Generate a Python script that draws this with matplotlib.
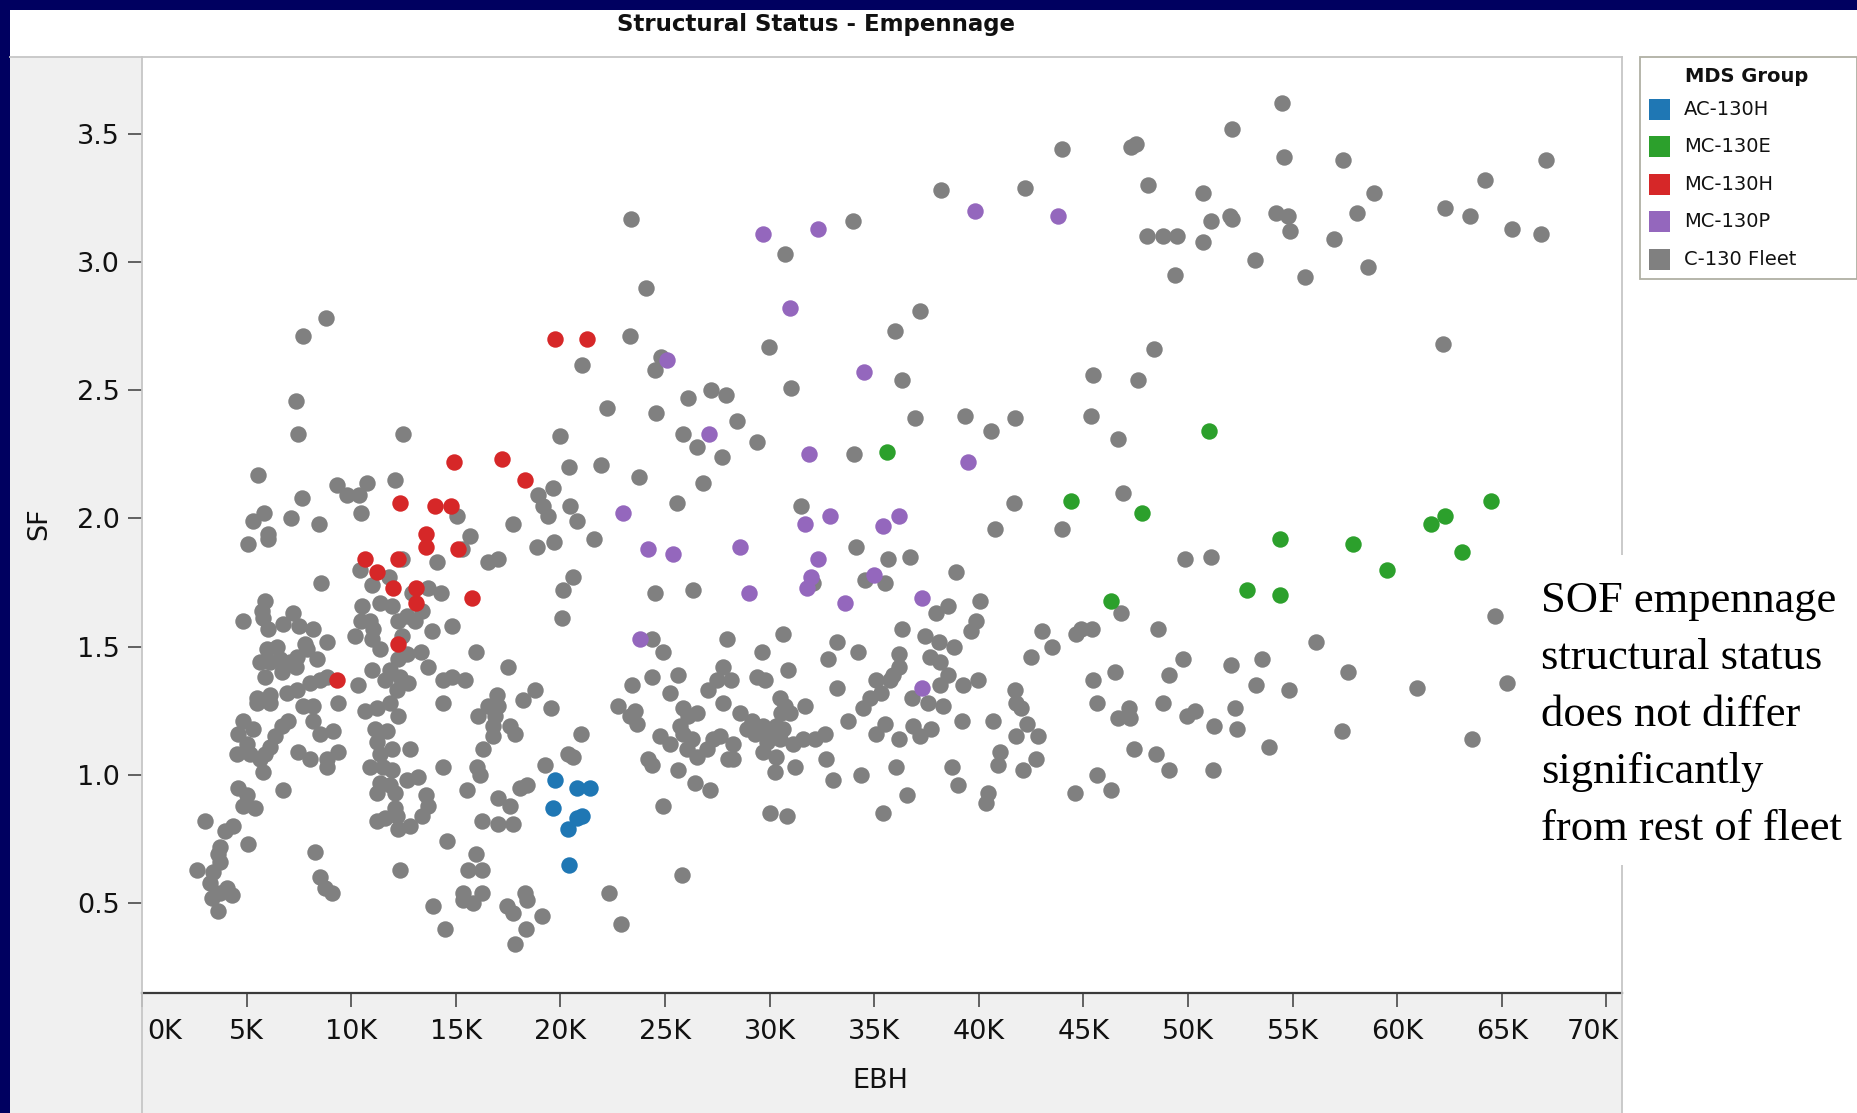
import numpy as np
import matplotlib
matplotlib.use("Agg")
import matplotlib.pyplot as plt
from matplotlib.patches import Rectangle
from matplotlib.lines import Line2D
import matplotlib.transforms as mtransforms

# ---- data: EBH in thousands of hours, SF ----
ac130h = [(19.74, 0.98), (20.81, 0.95), (21.42, 0.95), (19.63, 0.87),
          (21.02, 0.84), (20.78, 0.83), (20.35, 0.79), (20.43, 0.65)]

mc130e = [(35.6, 2.26), (51.0, 2.34), (44.4, 2.07), (47.8, 2.02), (64.5, 2.07),
          (62.3, 2.01), (61.6, 1.98), (54.4, 1.92), (57.9, 1.90), (63.1, 1.87),
          (59.5, 1.80), (52.8, 1.72), (54.4, 1.70), (46.3, 1.68)]

mc130h = [(19.74, 2.70), (21.26, 2.70), (17.19, 2.23), (14.91, 2.22), (18.30, 2.15),
          (12.33, 2.06), (14.00, 2.05), (14.77, 2.05), (13.58, 1.94), (13.58, 1.89),
          (15.09, 1.88), (10.68, 1.84), (12.22, 1.84), (11.22, 1.79), (11.98, 1.73),
          (13.10, 1.73), (13.10, 1.67), (15.77, 1.69), (12.24, 1.51), (9.31, 1.37)]

mc130p = [(29.7, 3.11), (32.3, 3.13), (39.8, 3.20), (43.8, 3.18), (31.0, 2.82),
          (25.1, 2.62), (34.5, 2.57), (27.1, 2.33), (31.9, 2.25), (39.5, 2.22),
          (23.0, 2.02), (32.9, 2.01), (31.7, 1.98), (35.4, 1.97), (36.2, 2.01),
          (24.2, 1.88), (25.4, 1.86), (28.6, 1.89), (32.3, 1.84), (32.0, 1.77),
          (31.8, 1.73), (29.0, 1.71), (33.6, 1.67), (35.0, 1.78), (37.3, 1.69),
          (23.8, 1.53), (37.3, 1.34)]

fleet_lo = [  # 0-15K
    (5.53, 2.17), (9.33, 2.13), (9.78, 2.09), (10.39, 2.09), (10.77, 2.14), (12.09, 2.15),
    (7.65, 2.08), (5.83, 2.02), (5.29, 1.99), (7.14, 2.00), (8.46, 1.98), (10.48, 2.02),
    (6.04, 1.94), (6.04, 1.92), (5.07, 1.90), (10.42, 1.80), (12.41, 1.84), (14.08, 1.83),
    (8.55, 1.75), (10.98, 1.74), (11.82, 1.77), (13.68, 1.73), (14.29, 1.71), (12.90, 1.71),
    (5.88, 1.68), (5.72, 1.64), (5.80, 1.61), (4.81, 1.60), (6.04, 1.57), (6.72, 1.59),
    (7.23, 1.63), (7.52, 1.58), (8.16, 1.57), (8.83, 1.52), (10.50, 1.66), (11.37, 1.67),
    (11.93, 1.66), (10.48, 1.60), (10.90, 1.60), (11.06, 1.57), (10.18, 1.54), (12.25, 1.60),
    (12.65, 1.62), (13.05, 1.60), (13.37, 1.64), (13.84, 1.56), (10.98, 1.53), (11.37, 1.49),
    (12.41, 1.54), (12.25, 1.45), (12.65, 1.47), (13.32, 1.48), (5.96, 1.49), (6.44, 1.50),
    (5.64, 1.44), (6.12, 1.44), (6.60, 1.45), (7.07, 1.44), (7.39, 1.46), (7.79, 1.51),
    (7.87, 1.49), (8.35, 1.45), (7.36, 1.42), (6.67, 1.40), (5.88, 1.38), (10.98, 1.41),
    (11.85, 1.41), (13.68, 1.42), (14.40, 1.37), (8.03, 1.36), (8.51, 1.37), (8.83, 1.38),
    (10.34, 1.35), (11.61, 1.37), (12.17, 1.33), (12.33, 1.38), (12.73, 1.36), (6.91, 1.32),
    (7.39, 1.33), (6.12, 1.31), (5.48, 1.30), (5.48, 1.28), (6.12, 1.28), (7.71, 1.27),
    (8.19, 1.27), (9.38, 1.28), (10.66, 1.25), (11.22, 1.26), (11.85, 1.28), (12.25, 1.23),
    (14.40, 1.28), (4.84, 1.21), (5.32, 1.18), (4.60, 1.16), (5.00, 1.12), (4.52, 1.08),
    (5.16, 1.08), (5.64, 1.06), (5.80, 1.01), (6.99, 1.21), (6.67, 1.19), (6.36, 1.15),
    (6.12, 1.11), (5.88, 1.08), (8.19, 1.21), (8.51, 1.16), (9.14, 1.17), (7.47, 1.09),
    (8.03, 1.06), (8.83, 1.06), (8.83, 1.03), (9.38, 1.09), (11.14, 1.18), (11.69, 1.17),
    (11.22, 1.13), (11.93, 1.10), (11.37, 1.08), (10.90, 1.03), (11.53, 1.03), (11.93, 1.02),
    (12.81, 1.10), (14.40, 1.03), (12.65, 0.98), (13.21, 0.99), (13.60, 0.92), (13.68, 0.88),
    (13.37, 0.84), (11.37, 0.97), (11.22, 0.93), (11.85, 0.96), (12.09, 0.93), (12.09, 0.87),
    (12.17, 0.84), (11.22, 0.82), (11.61, 0.83), (12.25, 0.79), (12.81, 0.80), (4.60, 0.95),
    (5.00, 0.92), (4.84, 0.88), (5.40, 0.87), (6.75, 0.94), (3.01, 0.82), (4.36, 0.80),
    (3.97, 0.78), (3.73, 0.72), (3.65, 0.69), (3.73, 0.66), (5.08, 0.73), (2.61, 0.63),
    (3.41, 0.62), (3.25, 0.58), (3.73, 0.54), (4.05, 0.56), (4.29, 0.53), (3.33, 0.52),
    (3.65, 0.47), (8.27, 0.70), (8.51, 0.60), (8.75, 0.56), (9.06, 0.54), (12.33, 0.63),
    (14.56, 0.74), (13.92, 0.49), (14.48, 0.40), (8.78, 2.78), (7.70, 2.71), (7.36, 2.46),
    (7.47, 2.33), (12.46, 2.33),
]

fleet_mid = [  # 15-30K
    (20.43, 2.20), (21.93, 2.21), (23.77, 2.16), (26.80, 2.14), (27.71, 2.24), (19.66, 2.12),
    (18.95, 2.09), (19.19, 2.05), (19.43, 2.01), (20.46, 2.05), (20.78, 1.99), (17.75, 1.98),
    (15.08, 2.01), (15.68, 1.93), (15.28, 1.88), (18.87, 1.89), (19.70, 1.91), (21.61, 1.92),
    (16.56, 1.83), (17.04, 1.84), (20.59, 1.77), (20.14, 1.72), (20.06, 1.61), (24.52, 1.71),
    (26.32, 1.72), (25.59, 2.06), (14.84, 1.58), (24.36, 1.53), (24.92, 1.48), (27.95, 1.53),
    (15.97, 1.48), (17.51, 1.42), (14.81, 1.38), (15.44, 1.37), (23.41, 1.35), (24.36, 1.38),
    (25.64, 1.39), (25.24, 1.32), (27.79, 1.42), (27.47, 1.37), (27.07, 1.33), (18.79, 1.33),
    (16.96, 1.31), (16.08, 1.23), (16.56, 1.27), (17.04, 1.27), (16.88, 1.23), (16.80, 1.19),
    (16.80, 1.15), (17.59, 1.19), (17.83, 1.16), (18.20, 1.29), (19.54, 1.26), (16.32, 1.10),
    (16.00, 1.03), (16.16, 1.00), (15.52, 0.94), (19.27, 1.04), (20.38, 1.08), (20.62, 1.07),
    (20.97, 1.16), (17.04, 0.91), (17.59, 0.88), (18.07, 0.95), (18.39, 0.96), (16.24, 0.82),
    (17.04, 0.81), (17.75, 0.81), (15.97, 0.69), (15.60, 0.63), (16.24, 0.63), (15.36, 0.54),
    (15.36, 0.51), (15.84, 0.50), (16.24, 0.54), (17.43, 0.49), (17.75, 0.46), (18.31, 0.54),
    (18.39, 0.51), (19.11, 0.45), (18.36, 0.40), (17.83, 0.34), (22.34, 0.54), (22.88, 0.42),
    (22.77, 1.27), (23.57, 1.25), (23.65, 1.20), (23.33, 1.23), (24.20, 1.06), (24.36, 1.04),
    (24.92, 0.88), (24.76, 1.15), (25.24, 1.12), (25.72, 1.19), (26.12, 1.23), (26.52, 1.24),
    (25.88, 1.16), (26.28, 1.14), (26.04, 1.10), (26.52, 1.07), (26.99, 1.10), (27.31, 1.14),
    (27.63, 1.15), (28.03, 1.06), (25.64, 1.02), (27.79, 1.28), (25.88, 1.26), (26.44, 0.97),
    (27.15, 0.94), (25.80, 0.61), (23.38, 3.17), (24.08, 2.90), (23.35, 2.71), (29.97, 2.67),
    (24.81, 2.63), (24.53, 2.58), (21.02, 2.60), (22.21, 2.43), (24.59, 2.41), (26.09, 2.47),
    (27.22, 2.50), (27.92, 2.48), (19.96, 2.32), (25.87, 2.33), (28.43, 2.38), (29.38, 2.30),
    (26.54, 2.28),
]

fleet_hi = [  # 28-46K
    (32.09, 1.75), (34.56, 1.76), (35.51, 1.75), (30.65, 1.55), (29.62, 1.48), (28.18, 1.37),
    (29.38, 1.38), (29.78, 1.37), (30.89, 1.41), (33.20, 1.52), (34.24, 1.48), (32.80, 1.45),
    (33.20, 1.34), (36.31, 1.57), (37.98, 1.63), (38.54, 1.66), (40.05, 1.68), (39.86, 1.60),
    (39.65, 1.56), (37.42, 1.54), (38.11, 1.52), (38.81, 1.50), (36.20, 1.47), (36.20, 1.42),
    (35.91, 1.39), (35.75, 1.37), (37.66, 1.46), (38.14, 1.44), (38.54, 1.39), (38.14, 1.35),
    (39.26, 1.35), (39.97, 1.37), (35.11, 1.37), (35.35, 1.32), (34.79, 1.30), (34.48, 1.26),
    (36.79, 1.30), (37.58, 1.28), (38.27, 1.27), (43.00, 1.56), (43.48, 1.50), (44.67, 1.55),
    (44.91, 1.57), (45.39, 1.57), (42.49, 1.46), (45.47, 1.37), (45.63, 1.28), (45.63, 1.00),
    (41.72, 1.33), (41.80, 1.28), (42.04, 1.26), (30.49, 1.30), (30.73, 1.27), (30.57, 1.24),
    (30.97, 1.24), (31.69, 1.27), (28.58, 1.24), (29.14, 1.21), (28.90, 1.18), (29.30, 1.16),
    (29.70, 1.19), (30.02, 1.16), (30.33, 1.19), (30.65, 1.18), (29.86, 1.13), (30.49, 1.14),
    (29.70, 1.09), (30.33, 1.07), (31.13, 1.12), (31.61, 1.14), (32.17, 1.14), (32.64, 1.16),
    (28.26, 1.12), (28.26, 1.06), (33.73, 1.21), (35.51, 1.20), (35.11, 1.16), (36.18, 1.14),
    (36.87, 1.19), (37.18, 1.15), (37.74, 1.18), (39.18, 1.21), (40.69, 1.21), (42.33, 1.20),
    (41.80, 1.15), (42.84, 1.15), (41.01, 1.09), (40.93, 1.04), (42.76, 1.06), (42.12, 1.02),
    (32.72, 1.06), (33.01, 0.98), (31.21, 1.03), (30.25, 1.01), (36.04, 1.03), (34.36, 1.00),
    (38.70, 1.03), (39.02, 0.96), (36.59, 0.92), (35.40, 0.85), (40.45, 0.93), (40.37, 0.89),
    (44.59, 0.93), (30.02, 0.85), (30.81, 0.84), (30.76, 3.03), (34.01, 3.16), (37.21, 2.81),
    (36.02, 2.73), (31.03, 2.51), (36.33, 2.54), (45.44, 2.56), (36.93, 2.39), (39.35, 2.40),
    (40.60, 2.34), (41.73, 2.39), (45.35, 2.40), (31.52, 2.05), (41.67, 2.06), (40.77, 1.96),
    (43.96, 1.96), (34.03, 2.25), (34.13, 1.89), (35.66, 1.84), (36.70, 1.85), (38.90, 1.79),
    (38.2, 3.28), (42.2, 3.29), (44.0, 3.44),
]

fleet_top = [  # 46-70K
    (46.90, 2.10), (49.86, 1.84), (51.10, 1.85), (46.82, 1.63), (48.59, 1.57), (56.12, 1.52),
    (64.68, 1.62), (49.78, 1.45), (52.05, 1.43), (53.56, 1.45), (46.49, 1.40), (49.09, 1.39),
    (57.65, 1.40), (53.23, 1.35), (54.83, 1.33), (60.94, 1.34), (65.25, 1.36), (47.19, 1.26),
    (46.65, 1.22), (47.23, 1.22), (48.82, 1.28), (49.94, 1.23), (50.32, 1.25), (51.26, 1.19),
    (52.25, 1.26), (52.35, 1.18), (57.35, 1.17), (53.86, 1.11), (63.57, 1.14), (47.42, 1.10),
    (48.49, 1.08), (49.09, 1.02), (46.32, 0.94), (51.19, 1.02), (48.04, 3.10), (47.59, 2.54),
    (46.65, 2.31), (47.5, 3.46), (47.3, 3.45), (54.5, 3.62), (52.1, 3.52), (54.6, 3.41),
    (57.4, 3.40), (67.1, 3.40), (64.2, 3.32), (48.1, 3.30), (50.7, 3.27), (58.9, 3.27),
    (58.1, 3.19), (52.0, 3.18), (52.1, 3.17), (51.1, 3.16), (54.2, 3.19), (54.8, 3.18),
    (54.9, 3.12), (62.3, 3.21), (63.5, 3.18), (65.5, 3.13), (66.9, 3.11), (48.8, 3.10),
    (49.5, 3.10), (50.7, 3.08), (53.2, 3.01), (57.0, 3.09), (58.6, 2.98), (55.6, 2.94),
    (49.4, 2.95), (62.2, 2.68), (48.4, 2.66),
]

fleet = fleet_lo + fleet_mid + fleet_hi + fleet_top

groups = ["AC-130H", "MC-130E", "MC-130H", "MC-130P", "C-130 Fleet"]
colors = ["#1f77b4", "#2ca02c", "#d62728", "#9467bd", "#808080"]
group_points = [ac130h, mc130e, mc130h, mc130p, fleet]

x_ticks = list(range(0, 75, 5))
y_ticks = [0.5, 1.0, 1.5, 2.0, 2.5, 3.0, 3.5]

note_lines = ["SOF empennage", "structural status", "does not differ",
              "significantly", "from rest of fleet"]

# ---- figure layout (pixel helpers) ----
W, H = 1858, 1113
fig = plt.figure(figsize=(W / 100, H / 100), dpi=100)
fig.patch.set_facecolor("white")


def fx(px):
    return px / W


def fy(py):
    return 1 - py / H


panel = "#f0f0f0"
navy = "#000060"
rule = "#c6c6c6"
txt = "#111111"
font = "DejaVu Sans"

# slide frame and grey axis panels
fig.add_artist(Rectangle((0, fy(10)), 1, 10 / H, color=navy, zorder=-10, lw=0))
fig.add_artist(Rectangle((0, 0), 10 / W, 1, color=navy, zorder=-10, lw=0))
fig.add_artist(Rectangle((fx(10), 0), (142 - 10) / W, fy(57), color=panel, zorder=-9, lw=0))
fig.add_artist(Rectangle((fx(10), 0), (1622 - 10) / W, fy(993), color=panel, zorder=-9, lw=0))
fig.add_artist(Line2D([fx(10), fx(1622)], [fy(57), fy(57)], color=rule, lw=1.3, zorder=1))
fig.add_artist(Line2D([fx(142), fx(142)], [fy(57), 0], color=rule, lw=1.3, zorder=1))
fig.add_artist(Line2D([fx(1622), fx(1622)], [fy(57), 0], color=rule, lw=1.3, zorder=1))

ax = fig.add_axes([fx(142), fy(993), (1622 - 142) / W, (993 - 57) / H])
ax.set_facecolor("white")

# fleet first, SOF groups on top
for name, col, pts in zip(groups[::-1], colors[::-1], group_points[::-1]):
    arr = np.array(pts)
    ax.scatter(arr[:, 0], arr[:, 1], s=140, color=col, linewidths=0, zorder=3)

ax.set_xlim(0, 70.75)
ax.set_ylim(0.149, 3.80)

for side in ["top", "right", "left"]:
    ax.spines[side].set_visible(False)
ax.spines["bottom"].set_color("#3a3a3a")
ax.spines["bottom"].set_linewidth(1.6)

ax.set_xticks(x_ticks)
ax.set_xticklabels([f"{v}K" for v in x_ticks], family=font, fontsize=19.5, color=txt)
ax.set_yticks(y_ticks)
ax.set_yticklabels([f"{v:.1f}" for v in y_ticks], family=font, fontsize=19.5, color=txt)
ax.tick_params(axis="x", direction="out", length=10, width=1.1, color="#3a3a3a", pad=9)
ax.tick_params(axis="y", direction="out", length=10, width=1.1, color="#3a3a3a", pad=6)

xl = ax.get_xticklabels()
xl[0].set_ha("left")
xl[0].set_transform(xl[0].get_transform() + mtransforms.ScaledTranslation(0.05, 0, fig.dpi_scale_trans))
xl[-1].set_transform(xl[-1].get_transform() + mtransforms.ScaledTranslation(-0.13, 0, fig.dpi_scale_trans))

ax.set_xlabel("EBH", family=font, fontsize=19.5, color=txt)
ax.xaxis.label.set_va("center")
ax.xaxis.set_label_coords((880 - 142) / 1480, (993 - 1081) / 936)
ax.set_ylabel("SF", family=font, fontsize=19.5, color=txt)
ax.yaxis.label.set_va("center")
ax.yaxis.set_label_coords((39 - 142) / 1480, (993 - 524) / 936)

fig.text(fx(816), fy(25), "Structural Status - Empennage", ha="center", va="center",
         family=font, fontsize=16.5, fontweight="bold", color=txt)

# legend box
fig.add_artist(Rectangle((fx(1640), fy(279)), (1857 - 1640) / W, (279 - 57) / H,
                         facecolor="white", edgecolor="#b0b0a4", lw=1.3, zorder=2))
fig.text(fx(1747), fy(76), "MDS Group", ha="center", va="center", family=font,
         fontsize=14, fontweight="bold", color=txt, zorder=3)
for i, (name, col) in enumerate(zip(groups, colors)):
    yc = 109.5 + 37.4 * i
    fig.add_artist(Rectangle((fx(1649), fy(yc + 10.5)), 21 / W, 21 / H, color=col, lw=0, zorder=3))
    fig.text(fx(1684), fy(yc), name, ha="left", va="center", family=font,
             fontsize=14, color=txt, zorder=3)

# annotation box over the right edge of the plot
fig.add_artist(Rectangle((fx(1529), fy(865)), (W - 1529) / W, (865 - 555) / H,
                         facecolor="white", edgecolor="none", zorder=4))
for i, line in enumerate(note_lines):
    fig.text(fx(1541), fy(601 + 57 * i), line, ha="left", va="center",
             family="Liberation Serif", fontsize=32, color="black", zorder=5)

fig.savefig("out.png", dpi=100)
